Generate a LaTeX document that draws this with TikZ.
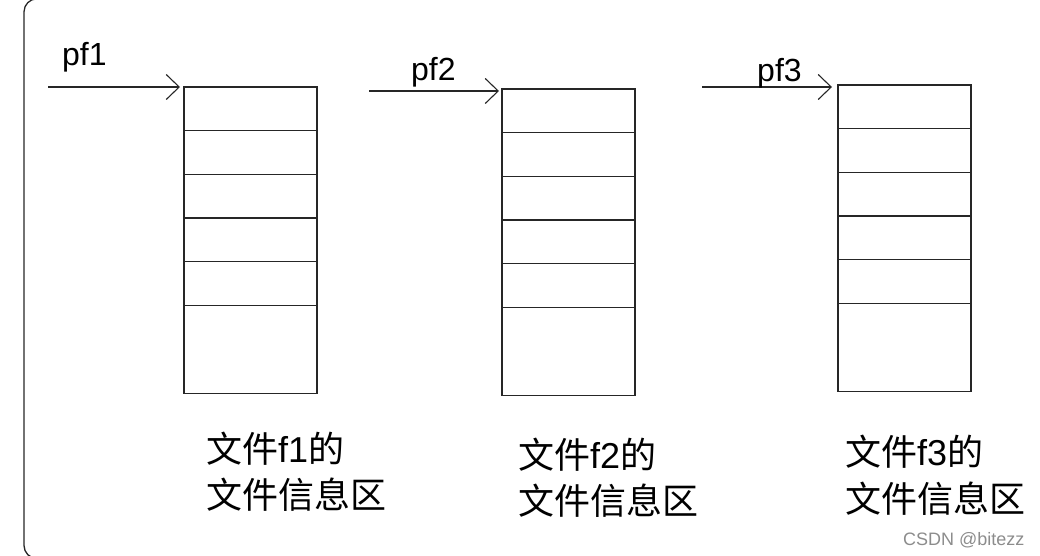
\documentclass[tikz,border=0pt]{standalone}
\usepackage{fontspec}
\setmainfont{Liberation Sans}
\newfontfamily\cjk{Noto Sans CJK SC}
\usetikzlibrary{arrows.meta}
\tikzset{
  cell/.style={draw=black!85, line width=1.3pt, minimum width=133pt, minimum height=#1, inner sep=0pt, outer sep=0pt, anchor=north west},
  cell/.default=43.7pt,
  ptr/.style={draw=black!85, line width=1.2pt, -{Straight Barb[length=13pt,width=25pt,line width=1.1pt]}},
  plabel/.style={inner sep=0pt, anchor=base west, font=\fontsize{32}{32}\selectfont},
  flabel/.style={inner sep=0pt, anchor=base west, font=\fontsize{36}{36}\selectfont},
}
\begin{document}
\begin{tikzpicture}[x=1pt,y=-1pt]
\useasboundingbox (0,0) rectangle (1040,556);
\begin{scope}
\clip (0,0) rectangle (1040,556);
\draw[black!85, line width=1.3pt, rounded corners=13pt] (24,-1.2) rectangle (1100,558.5);
\end{scope}
% column 1
\node[cell] (a1) at (184,87) {};
\node[cell] (a2) at (a1.south west) {};
\node[cell] (a3) at (a2.south west) {};
\node[cell] (a4) at (a3.south west) {};
\node[cell] (a5) at (a4.south west) {};
\node[cell=88pt] (a6) at (a5.south west) {};
% column 2
\node[cell] (b1) at (502,89) {};
\node[cell] (b2) at (b1.south west) {};
\node[cell] (b3) at (b2.south west) {};
\node[cell] (b4) at (b3.south west) {};
\node[cell] (b5) at (b4.south west) {};
\node[cell=88pt] (b6) at (b5.south west) {};
% column 3
\node[cell] (c1) at (838,85) {};
\node[cell] (c2) at (c1.south west) {};
\node[cell] (c3) at (c2.south west) {};
\node[cell] (c4) at (c3.south west) {};
\node[cell] (c5) at (c4.south west) {};
\node[cell=88pt] (c6) at (c5.south west) {};
% pointers
\coordinate (s1) at (48,87);
\coordinate (s2) at (369,91);
\coordinate (s3) at (702,87);
\draw[ptr] (s1) -- ([xshift=-4pt]a1.north west);
\draw[ptr] (s2) -- ([xshift=-3pt,yshift=-2pt]b1.north west);
\draw[ptr] (s3) -- ([xshift=-6pt,yshift=-2pt]c1.north west);
\node[plabel] (p1) at (62,66) {pf1};
\node[plabel] (p2) at (411,81) {pf2};
\node[plabel] (p3) at (757,82) {pf3};
% file labels
\node[flabel] (l1a) at (206,462) {{\cjk 文件}f1{\cjk 的}};
\node[flabel] (l1b) at (206,508) {\cjk 文件信息区};
\node[flabel] (l2a) at (518,468) {{\cjk 文件}f2{\cjk 的}};
\node[flabel] (l2b) at (518,514) {\cjk 文件信息区};
\node[flabel] (l3a) at (845,465) {{\cjk 文件}f3{\cjk 的}};
\node[flabel] (l3b) at (845,512) {\cjk 文件信息区};
% watermark
\node[inner sep=0pt, anchor=base west, text=black!45, font=\fontsize{18}{18}\selectfont] (wm) at (903,545) {CSDN @bitezz};
\end{tikzpicture}
\end{document}
